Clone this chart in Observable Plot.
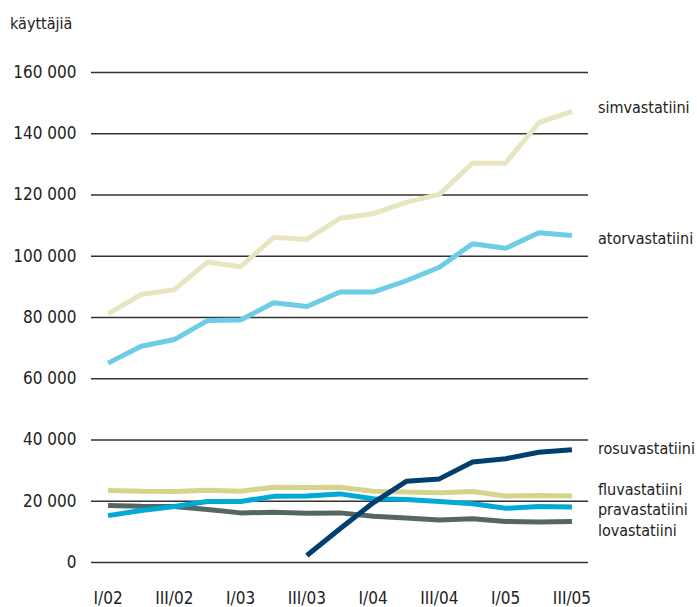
<!DOCTYPE html>
<html>
<head>
<meta charset="utf-8">
<script src="https://cdn.jsdelivr.net/npm/d3@7"></script>
<script src="https://cdn.jsdelivr.net/npm/@observablehq/plot@0.6"></script>
<style>
  html, body { margin: 0; padding: 0; background: #fff; }
  #wrap { position: relative; width: 697px; height: 607px; }
  #ylabel { position: absolute; left: 10px; top: 14px; font-family: "DejaVu Sans Condensed", "DejaVu Sans", sans-serif; font-stretch: condensed; font-size: 16px; color: #222; }
  svg { font-family: "DejaVu Sans Condensed", "DejaVu Sans", sans-serif; }
</style>
</head>
<body>
<div id="wrap"><div id="ylabel">käyttäjiä</div></div>
<script>
const quarters = ["I/02","II/02","III/02","IV/02","I/03","II/03","III/03","IV/03","I/04","II/04","III/04","IV/04","I/05","II/05","III/05"];
const xTickLabels = ["I/02","III/02","I/03","III/03","I/04","III/04","I/05","III/05"];
const yTicks = [0, 20000, 40000, 60000, 80000, 100000, 120000, 140000, 160000];

const simvastatiini = [81200, 87500, 89100, 98100, 96600, 106200, 105500, 112400, 113900, 117600, 120200, 130400, 130400, 143600, 147300];
const atorvastatiini = [65100, 70600, 72800, 79000, 79200, 84800, 83600, 88300, 88300, 92000, 96400, 104100, 102600, 107700, 106800];
const rosuvastatiini = [null, null, null, null, null, null, 2300, 11000, 19500, 26500, 27300, 32800, 33900, 36000, 36800];
const fluvastatiini = [23500, 23300, 23200, 23600, 23300, 24600, 24500, 24600, 23300, 23000, 22800, 23200, 21700, 21900, 21700];
const pravastatiini = [15300, 17000, 18300, 19900, 19900, 21600, 21700, 22400, 20800, 20600, 19900, 19200, 17700, 18300, 18100];
const lovastatiini = [18600, 18400, 18300, 17300, 16200, 16400, 16100, 16200, 15100, 14500, 13900, 14300, 13400, 13200, 13400];

const seriesDefs = [
  {name: "simvastatiini", values: simvastatiini, color: "#e8e6c2", dy: -4},
  {name: "atorvastatiini", values: atorvastatiini, color: "#6ecde6", dy: 3},
  {name: "lovastatiini", values: lovastatiini, color: "#566663", dy: 9},
  {name: "fluvastatiini", values: fluvastatiini, color: "#d6d48a", dy: -6},
  {name: "pravastatiini", values: pravastatiini, color: "#00aad5", dy: 3},
  {name: "rosuvastatiini", values: rosuvastatiini, color: "#003f6e", dy: -1}
];

const rows = [];
for (const s of seriesDefs) {
  s.values.forEach((v, i) => rows.push({series: s.name, q: i, quarter: quarters[i], value: v}));
}

const fmt = d3.formatLocale({thousands: "\u00a0", grouping: [3], decimal: ",", currency: ["", ""]}).format(",");

const marks = [
  Plot.ruleY(yTicks, {stroke: "#333", strokeWidth: 1.3}),
  Plot.axisY({ticks: yTicks, tickSize: 0, tickPadding: 15, tickFormat: d => fmt(d), fontSize: 17, color: "#222", label: null}),
  Plot.axisX({ticks: xTickLabels.map(l => quarters.indexOf(l)), tickSize: 0, tickPadding: 29, tickFormat: i => quarters[i], fontSize: 17, label: null})
];
for (const s of seriesDefs) {
  const data = rows.filter(r => r.series === s.name && r.value != null);
  marks.push(Plot.line(data, {x: "q", y: "value", stroke: s.color, strokeWidth: 5, strokeLinejoin: "miter", strokeLinecap: "butt"}));
}
for (const s of seriesDefs) {
  const data = rows.filter(r => r.series === s.name && r.value != null);
  marks.push(Plot.text(data, Plot.selectLast({x: "q", y: "value", text: d => d.series, textAnchor: "start", dx: 26, dy: s.dy, fontSize: 16, fill: "#222"})));
}

const chart = Plot.plot({
  width: 697,
  height: 607,
  marginTop: 72,
  marginBottom: 45,
  marginLeft: 91,
  marginRight: 109,
  style: {fontFamily: "'DejaVu Sans Condensed', 'DejaVu Sans', sans-serif", fontSize: "17px", color: "#222", background: "#fff"},
  x: {type: "linear", domain: [-0.5, 14.5]},
  y: {domain: [0, 160000]},
  marks
});
document.getElementById("wrap").appendChild(chart);
</script>
</body>
</html>
